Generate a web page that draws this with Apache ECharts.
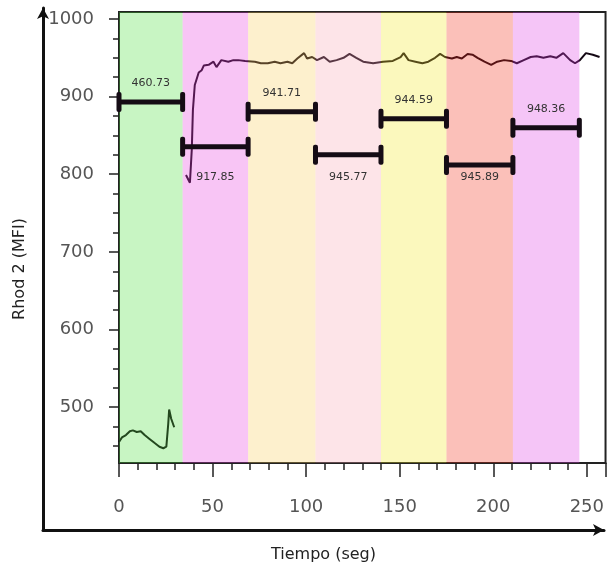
<!DOCTYPE html>
<html>
<head>
<meta charset="utf-8">
<script src="https://cdn.jsdelivr.net/npm/echarts@6/dist/echarts.min.js"></script>
<style>
html, body { margin: 0; padding: 0; background: #fff; }
#chart { width: 607px; height: 569px; }
</style>
</head>
<body>
<div id="chart"></div>
<script>
// Rhod 2 trace, first recording (green period)
const tiempoA = [0, 1.6, 3.7, 5.8, 7.4, 9.5, 11.6, 13.7, 16.3, 18.9, 21.6, 23.7, 25.3, 26.3, 26.8, 27.9, 29.5];
const rhodA = [455, 461, 464, 469, 470, 468, 469, 464, 459, 454, 449, 447, 449, 478, 497, 485, 474];

// Rhod 2 trace, second recording
const tiempoB = [35.8, 37.9, 38.9, 39.5, 40.5, 41.1, 42.6, 44.2, 45.3, 47.9, 50.5, 52.1, 54.7, 58.4, 61.1, 63.7, 67.4,
  72.6, 75.8, 79.5, 83.2, 86.3, 90, 92.6, 95.3, 98.9, 100.5, 103.2, 105.8, 109.5, 112.6, 116.3, 120, 123.2, 126.8,
  130.5, 135.8, 141.1, 146.3, 150.5, 152.1, 154.7, 158.4, 162.1, 165.3, 168.9, 171.6, 174.2, 177.9, 180.5, 183.2,
  186.3, 188.9, 191.6, 195.3, 198.9, 202.1, 205.8, 209.5, 212.6, 216.3, 220, 223.2, 226.8, 230.5, 233.7, 237.4,
  241.1, 243.7, 246.3, 249.5, 253.2, 256.8];
const rhodB = [799, 789, 832, 883, 915, 913, 931, 934, 940, 941, 945, 938, 947, 945, 947, 947, 946,
  945, 943, 943, 945, 943, 945, 943, 949, 956, 949, 951, 947, 951, 945, 947, 950, 955, 950,
  945, 943, 945, 946, 951, 956, 947, 945, 943, 945, 950, 955, 951, 949, 951, 949,
  955, 954, 950, 945, 941, 945, 947, 946, 943, 947, 951, 952, 950, 952, 950, 956,
  947, 943, 947, 956, 954, 951];

// periods (s) and the mean bars drawn across them
const periodEdges = [0, 34, 69, 105, 140, 175, 210.5, 246];
const barLevels = [893, 835.5, 880.5, 825, 871.5, 812, 860];
const barLabels = ['460.73', '917.85', '941.71', '945.77', '944.59', '945.89', '948.36'];

// axis ticks
const yTickLabels = [500, 600, 700, 800, 900, 1000];
const yMinorTicks = [450, 475, 500, 525, 550, 575, 600, 625, 650, 675, 700, 725, 750, 775, 800,
  825, 850, 875, 900, 925, 950, 975, 1000];

// band colours, drawn over the trace at low opacity
const bandColors = ['#48de37', '#e83ede', '#f8cc58', '#f8a5b2', '#f2e823', '#f22d16', '#de3ee4'];
const Y_MIN = 428, Y_MAX = 1009;
const BELOW_LABEL_VALUE = 796;

const traceData = tiempoA.map((t, i) => [t, rhodA[i]])
  .concat([[32, null]])
  .concat(tiempoB.map((t, i) => [t, rhodB[i]]));
const periodData = barLevels.map((lv, i) => [periodEdges[i], periodEdges[i + 1], lv]);

const FONT = 'DejaVu Sans';
const ink = '#222';

const chart = echarts.init(document.getElementById('chart'));
chart.setOption({
  animation: false,
  textStyle: { fontFamily: FONT },
  grid: [
    { left: 119, right: -6, top: 12, bottom: 106, show: true, borderColor: ink, borderWidth: 2 },
    { left: 43, right: 3, top: 8, bottom: 39 }
  ],
  xAxis: [
    {
      gridIndex: 0, type: 'value', min: 0, max: 260, interval: 50,
      axisLine: { lineStyle: { color: ink, width: 2 } },
      axisTick: { length: 14, lineStyle: { color: ink, width: 1.5 } },
      minorTick: { show: true, splitNumber: 5, length: 7, lineStyle: { color: ink, width: 1.5 } },
      axisLabel: { fontSize: 18, color: '#555', margin: 35, showMaxLabel: false, fontFamily: FONT },
      splitLine: { show: false }
    },
    {
      gridIndex: 1, type: 'value', min: 0, max: 1,
      axisLine: { symbol: ['none', 'arrow'], symbolSize: [9, 11], lineStyle: { color: '#111', width: 3 } },
      axisTick: { show: false }, axisLabel: { show: false }, splitLine: { show: false },
      name: 'Tiempo (seg)', nameLocation: 'middle', nameGap: 17,
      nameTextStyle: { fontSize: 16, color: ink, fontFamily: FONT }
    }
  ],
  yAxis: [
    {
      gridIndex: 0, type: 'value', min: Y_MIN, max: Y_MAX, position: 'left',
      axisLine: { show: true, lineStyle: { color: ink, width: 2 } },
      axisTick: { customValues: yMinorTicks, length: 6, lineStyle: { color: ink, width: 1.5 } },
      axisLabel: {
        customValues: yTickLabels, fontSize: 18, color: '#555', margin: 25, fontFamily: FONT,
        formatter: v => String(v)
      },
      splitLine: { show: false }
    },
    {
      gridIndex: 0, type: 'value', min: Y_MIN, max: Y_MAX, position: 'left',
      axisLine: { show: false },
      axisTick: { customValues: yTickLabels, length: 10, lineStyle: { color: ink, width: 1.5 } },
      axisLabel: { show: false },
      splitLine: { show: false }
    },
    {
      gridIndex: 1, type: 'value', min: 0, max: 1,
      axisLine: { symbol: ['none', 'arrow'], symbolSize: [9, 11], lineStyle: { color: '#111', width: 3 } },
      axisTick: { show: false }, axisLabel: { show: false }, splitLine: { show: false },
      name: 'Rhod 2 (MFI)', nameLocation: 'middle', nameGap: 15,
      nameTextStyle: { fontSize: 16, color: ink, fontFamily: FONT }
    }
  ],
  series: [
    {
      type: 'line', xAxisIndex: 0, yAxisIndex: 0, z: 2,
      data: traceData, showSymbol: false, connectNulls: false,
      lineStyle: { color: '#140814', width: 2 }
    },
    {
      // coloured periods
      type: 'custom', xAxisIndex: 0, yAxisIndex: 0, z: 3, silent: true,
      data: periodData,
      renderItem: function (params, api) {
        const x0 = api.coord([api.value(0), Y_MIN])[0];
        const x1 = api.coord([api.value(1), Y_MIN])[0];
        const cs = params.coordSys;
        return {
          type: 'rect',
          shape: { x: x0, y: cs.y, width: x1 - x0, height: cs.height },
          style: { fill: bandColors[params.dataIndex], opacity: 0.3 }
        };
      }
    },
    {
      // mean bars with caps and their values
      type: 'custom', xAxisIndex: 0, yAxisIndex: 0, z: 4, silent: true, clip: false,
      data: periodData,
      renderItem: function (params, api) {
        const i = params.dataIndex;
        const a = api.coord([api.value(0), api.value(2)]);
        const b = api.coord([api.value(1), api.value(2)]);
        const col = '#150c15';
        const labelY = i % 2 === 0 ? a[1] - 19 : api.coord([0, BELOW_LABEL_VALUE])[1];
        return {
          type: 'group',
          children: [
            { type: 'line', shape: { x1: a[0], y1: a[1], x2: b[0], y2: b[1] }, style: { stroke: col, lineWidth: 5 } },
            { type: 'rect', shape: { x: a[0] - 2.5, y: a[1] - 10, width: 5, height: 20, r: 2 }, style: { fill: col } },
            { type: 'rect', shape: { x: b[0] - 2.5, y: b[1] - 10, width: 5, height: 20, r: 2 }, style: { fill: col } },
            {
              type: 'text', x: (a[0] + b[0]) / 2, y: labelY,
              style: { text: barLabels[i], fill: '#333', fontSize: 11, fontFamily: FONT, align: 'center', verticalAlign: 'middle' }
            }
          ]
        };
      }
    }
  ]
});
</script>
</body>
</html>
